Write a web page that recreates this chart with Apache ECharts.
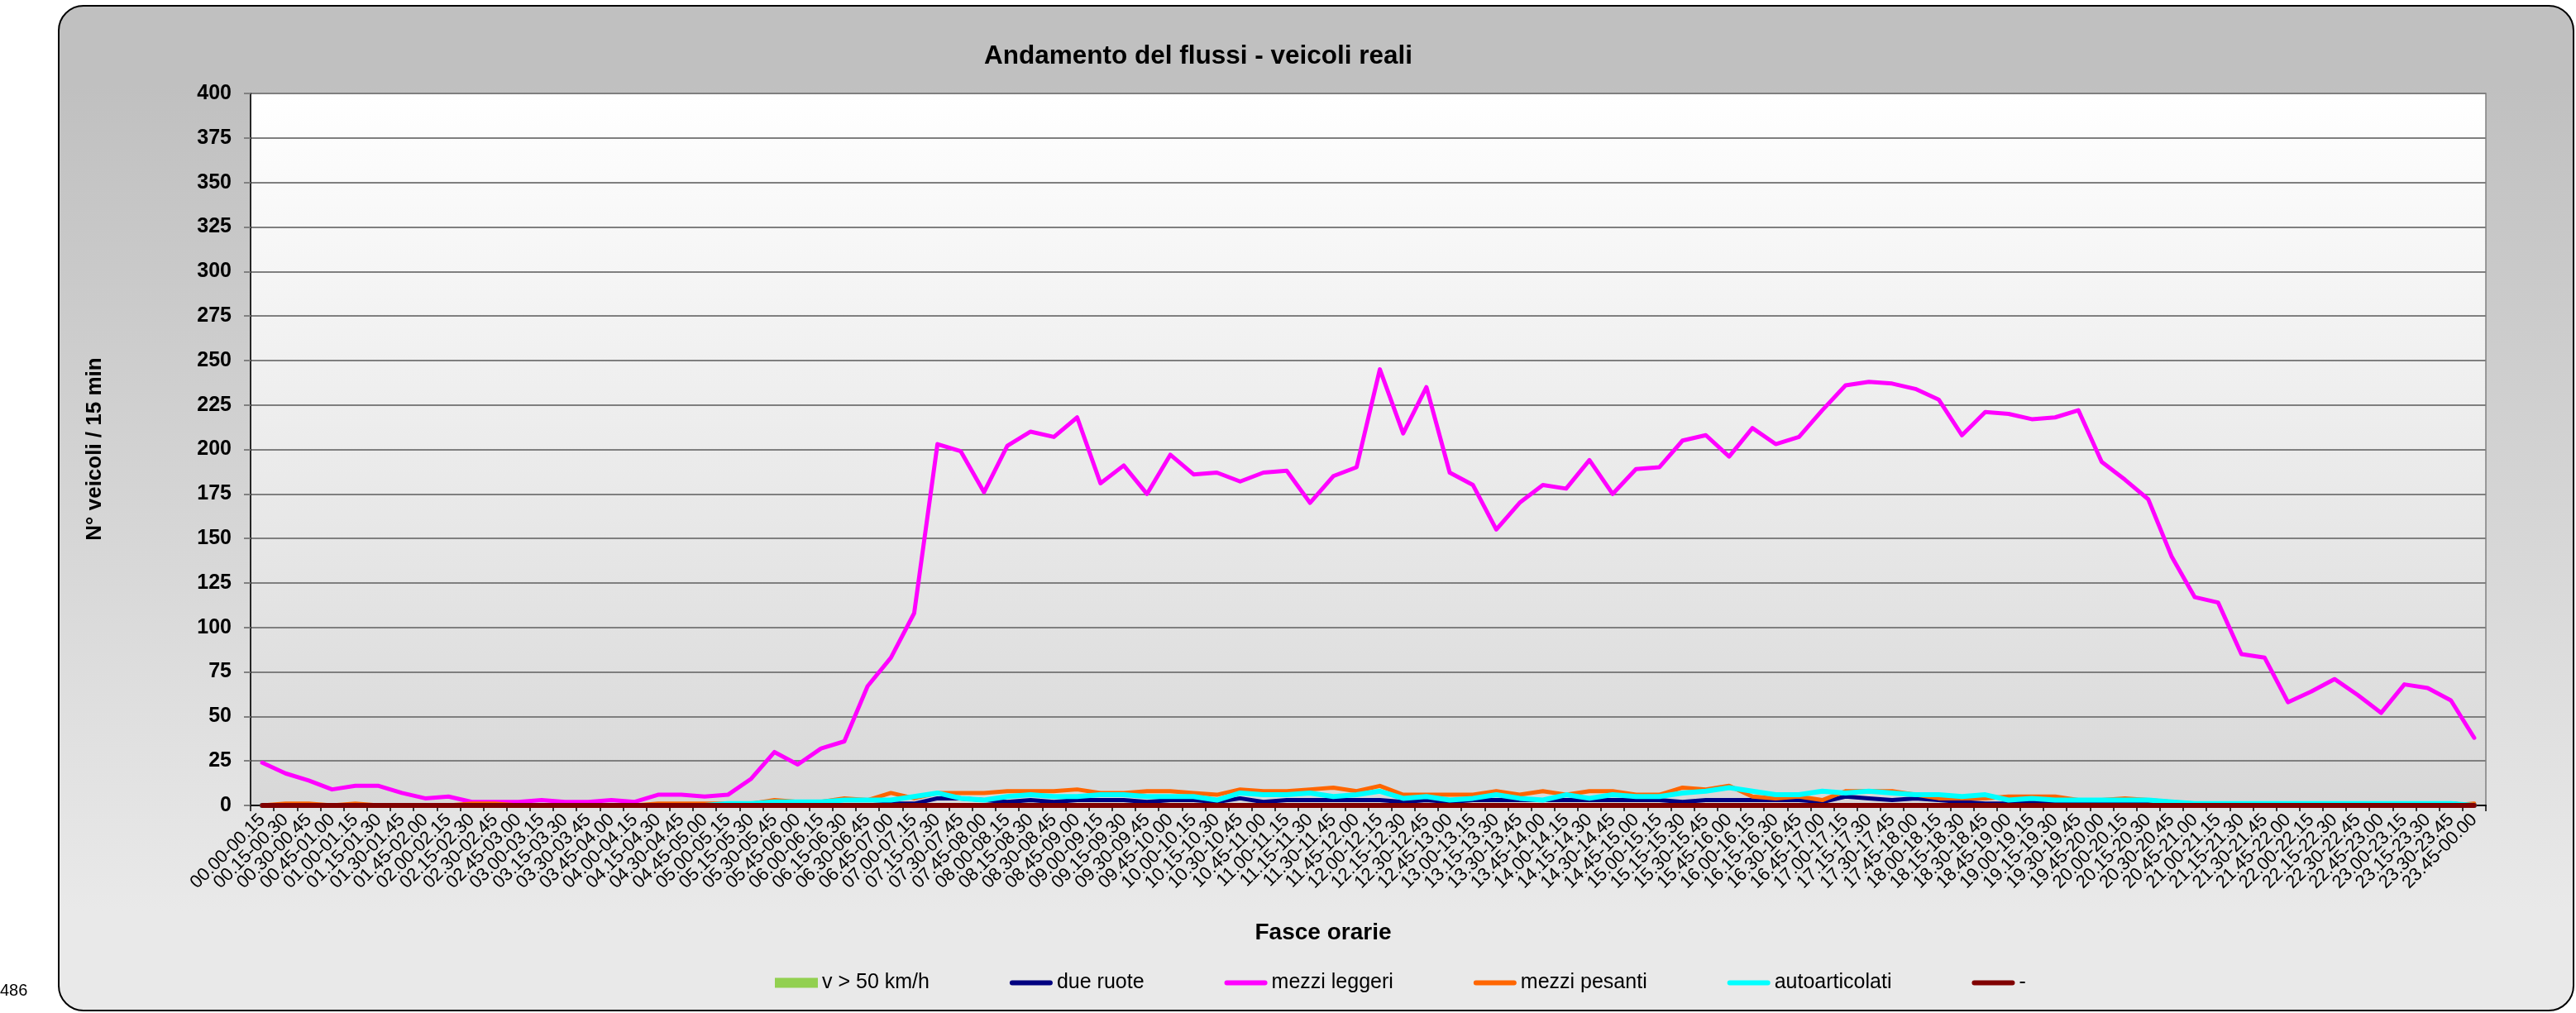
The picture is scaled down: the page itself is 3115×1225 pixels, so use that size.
<!DOCTYPE html>
<html>
<head>
<meta charset="utf-8">
<script src="https://cdn.jsdelivr.net/npm/echarts@6/dist/echarts.min.js"></script>
<style>
  html, body { margin: 0; padding: 0; background: #ffffff; }
  #chart { width: 3115px; height: 1225px; }
</style>
</head>
<body>
<div id="chart"></div>
<script>
// fasce orarie (96 x 15 min)
const fasce = [
  '00.00-00.15','00.15-00.30','00.30-00.45','00.45-01.00','01.00-01.15','01.15-01.30','01.30-01.45','01.45-02.00',
  '02.00-02.15','02.15-02.30','02.30-02.45','02.45-03.00','03.00-03.15','03.15-03.30','03.30-03.45','03.45-04.00',
  '04.00-04.15','04.15-04.30','04.30-04.45','04.45-05.00','05.00-05.15','05.15-05.30','05.30-05.45','05.45-06.00',
  '06.00-06.15','06.15-06.30','06.30-06.45','06.45-07.00','07.00-07.15','07.15-07.30','07.30-07.45','07.45-08.00',
  '08.00-08.15','08.15-08.30','08.30-08.45','08.45-09.00','09.00-09.15','09.15-09.30','09.30-09.45','09.45-10.00',
  '10.00-10.15','10.15-10.30','10.30-10.45','10.45-11.00','11.00-11.15','11.15-11.30','11.30-11.45','11.45-12.00',
  '12.00-12.15','12.15-12.30','12.30-12.45','12.45-13.00','13.00-13.15','13.15-13.30','13.30-13.45','13.45-14.00',
  '14.00-14.15','14.15-14.30','14.30-14.45','14.45-15.00','15.00-15.15','15.15-15.30','15.30-15.45','15.45-16.00',
  '16.00-16.15','16.15-16.30','16.30-16.45','16.45-17.00','17.00-17.15','17.15-17.30','17.30-17.45','17.45-18.00',
  '18.00-18.15','18.15-18.30','18.30-18.45','18.45-19.00','19.00-19.15','19.15-19.30','19.30-19.45','19.45-20.00',
  '20.00-20.15','20.15-20.30','20.30-20.45','20.45-21.00','21.00-21.15','21.15-21.30','21.30-21.45','21.45-22.00',
  '22.00-22.15','22.15-22.30','22.30-22.45','22.45-23.00','23.00-23.15','23.15-23.30','23.30-23.45','23.45-00.00'
]

const velocita50 = [
  0,0,0,0,0,0,0,0,0,0,0,0,0,0,0,0,0,0,0,0,0,0,0,0,
  0,0,0,0,0,0,0,0,0,0,0,0,0,0,0,0,0,0,0,0,0,0,0,0,
  0,0,0,0,0,0,0,0,0,0,0,0,0,0,0,0,0,0,0,0,0,0,0,0,
  0,0,0,0,0,0,0,0,0,0,0,0,0,0,0,0,0,0,0,0,0,0,0,0
]

const dueRuote = [
  0,0,0,0,0,0,0,0,0,0,0,0,0,0,0,0,0,0,0,0,0,0,0,0,
  0,0,0,1,1,4,4,3,2,3,2,3,3,3,2,3,3,2,4,2,3,3,3,3,
  3,2,3,2,3,3,3,3,3,3,3,3,3,2,3,3,3,3,3,2,5,4,3,4,
  3,2,1,1,2,1,2,1,1,1,1,1,1,1,1,1,1,1,1,1,1,1,1,0
]

const mezziLeggeri = [
  24,18,14,9,11,11,7,4,5,2,2,2,3,2,2,3,2,6,6,5,6,15,30,23,
  32,36,67,83,108,203,199,176,202,210,207,218,181,191,175,197,186,187,182,187,188,170,185,190,
  245,209,235,187,180,155,170,180,178,194,175,189,190,205,208,196,212,203,207,222,236,238,237,234,
  228,208,221,220,217,218,222,193,183,172,140,117,114,85,83,58,64,71,62,52,68,66,59,38
]

const mezziPesanti = [
  0,1,1,0,1,0,0,0,0,1,1,0,0,0,0,0,0,1,1,1,1,1,3,2,
  2,4,3,7,4,7,7,7,8,8,8,9,7,7,8,8,7,6,9,8,8,9,10,8,
  11,6,6,6,6,8,6,8,6,8,8,6,6,10,9,11,5,4,5,3,8,8,8,6,
  4,4,4,5,5,5,3,3,4,3,2,1,1,1,1,0,1,1,1,1,0,0,0,1
]

const autoarticolati = [
  0,0,0,0,0,0,0,0,0,0,0,0,0,0,0,0,0,0,0,0,1,1,2,2,
  2,3,3,3,5,7,4,3,5,6,5,5,6,6,5,5,5,3,7,6,6,7,5,6,
  8,4,5,3,4,6,4,3,6,4,6,5,5,7,8,10,8,6,6,8,7,8,7,6,
  6,5,6,3,4,3,3,3,3,3,2,1,1,1,1,1,1,1,1,1,1,1,1,0
]

const trattino = [
  0,0,0,0,0,0,0,0,0,0,0,0,0,0,0,0,0,0,0,0,0,0,0,0,
  0,0,0,0,0,0,0,0,0,0,0,0,0,0,0,0,0,0,0,0,0,0,0,0,
  0,0,0,0,0,0,0,0,0,0,0,0,0,0,0,0,0,0,0,0,0,0,0,0,
  0,0,0,0,0,0,0,0,0,0,0,0,0,0,0,0,0,0,0,0,0,0,0,0
]

const yTicks = [0, 400, 25]  // min, max, passo

const font = 'Liberation Sans, Arial, sans-serif'
const iconaLinea = 'path://M3,0 L49,0 A3,3 0 0 1 49,6 L3,6 A3,3 0 0 1 3,0 Z'

function linea(nome, dati, colore, spessore) {
  return {
    name: nome,
    type: 'line',
    data: dati,
    symbol: 'none',
    color: colore,
    lineStyle: {color: colore, width: spessore, cap: 'round', join: 'round'},
  }
}

const myChart = echarts.init(document.getElementById('chart'))
myChart.setOption({
  animation: false,
  textStyle: {fontFamily: font},
  title: {
    text: 'Andamento del flussi - veicoli reali',
    left: 1449,
    top: 52,
    padding: 0,
    textAlign: 'center',
    textStyle: {fontSize: 31.5, fontWeight: 'bold', color: '#000', fontFamily: font},
  },
  graphic: [
    {  // cornice
      type: 'rect',
      z: -100,
      silent: true,
      shape: {x: 71, y: 7, width: 3041, height: 1215, r: 30},
      style: {
        fill: new echarts.graphic.LinearGradient(0, 0, 0, 1, [
          {offset: 0, color: '#c0c0c0'},
          {offset: 0.08, color: '#c0c0c0'},
          {offset: 0.9, color: '#e9e9e9'},
          {offset: 1, color: '#e9e9e9'},
        ]),
        stroke: '#000',
        lineWidth: 2,
      },
    },
    {
      type: 'text',
      x: 115, y: 543,
      rotation: Math.PI / 2,
      style: {
        text: 'N° veicoli / 15 min', fill: '#000',
        font: 'bold 26px ' + font, align: 'center', verticalAlign: 'middle',
      },
    },
    {
      type: 'text',
      x: 1600, y: 1128,
      style: {
        text: 'Fasce orarie', fill: '#000',
        font: 'bold 28px ' + font, align: 'center', verticalAlign: 'middle',
      },
    },
    {
      type: 'text',
      x: 0, y: 1198,
      style: {text: '486', fill: '#000', font: '20px ' + font, align: 'left', verticalAlign: 'middle'},
    },
  ],
  legend: {
    left: 937,
    top: 1176,
    itemGap: 97,
    itemWidth: 52,
    itemHeight: 12,
    padding: 0,
    textStyle: {fontSize: 25, color: '#000', fontFamily: font},
    data: [
      {name: 'v > 50 km/h', icon: 'rect'},
      {name: 'due ruote', icon: iconaLinea},
      {name: 'mezzi leggeri', icon: iconaLinea},
      {name: 'mezzi pesanti', icon: iconaLinea},
      {name: 'autoarticolati', icon: iconaLinea},
      {name: '-', icon: iconaLinea},
    ],
  },
  grid: {
    left: 303,
    right: 109,
    top: 113,
    bottom: 251,
    show: true,
    borderColor: '#808080',
    borderWidth: 1.5,
    backgroundColor: new echarts.graphic.LinearGradient(0, 0, 0, 1, [
      {offset: 0, color: '#ffffff'},
      {offset: 1, color: '#d8d8d8'},
    ]),
  },
  xAxis: {
    type: 'category',
    data: fasce,
    boundaryGap: true,
    axisLine: {lineStyle: {color: '#000', width: 2}},
    axisTick: {show: true, length: 7, lineStyle: {color: '#000', width: 1.5}},
    axisLabel: {
      interval: 0,
      rotate: 45,
      margin: 14,
      fontSize: 22,
      color: '#000',
      fontFamily: font,
    },
  },
  yAxis: {
    type: 'value',
    min: yTicks[0],
    max: yTicks[1],
    interval: yTicks[2],
    axisLine: {show: true, lineStyle: {color: '#000', width: 1.5}},
    axisTick: {show: true, length: 8, lineStyle: {color: '#808080', width: 2}},
    splitLine: {lineStyle: {color: '#7f7f7f', width: 2}},
    axisLabel: {margin: 23, fontSize: 25, fontWeight: 'bold', color: '#000', fontFamily: font},
  },
  series: [
    linea('v > 50 km/h', velocita50, '#92d050', 5),
    linea('due ruote', dueRuote, '#000080', 5),
    linea('mezzi leggeri', mezziLeggeri, '#ff00ff', 5),
    linea('mezzi pesanti', mezziPesanti, '#ff6600', 5),
    linea('autoarticolati', autoarticolati, '#00ffff', 6),
    linea('-', trattino, '#800000', 6),
  ],
})
window.addEventListener('resize', () => myChart.resize())
</script>
</body>
</html>
